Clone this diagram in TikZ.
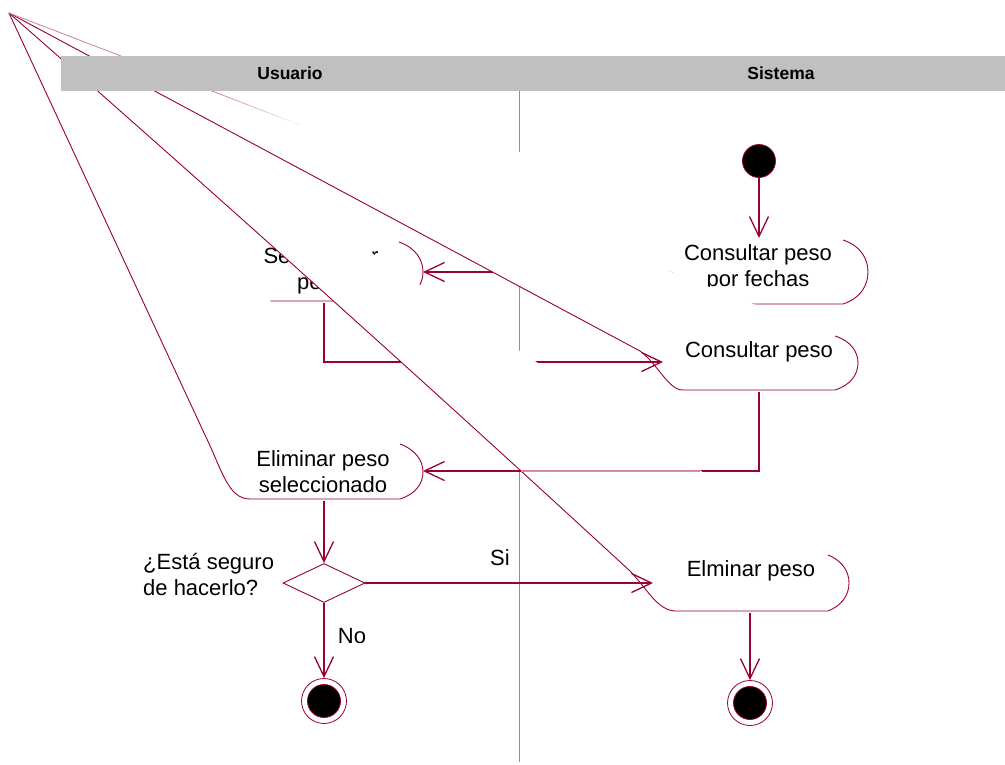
\documentclass[tikz,border=0pt]{standalone}
\usepackage{fontspec}
\setmainfont{Liberation Sans}
\usetikzlibrary{positioning,arrows.meta,shapes.geometric,calc}

\definecolor{uml}{RGB}{153,0,51}
\definecolor{lane}{RGB}{192,192,192}

\begin{document}
\begin{tikzpicture}[x=1pt, y=-1pt,
  every node/.style={inner sep=0pt, font=\fontsize{22}{26}\selectfont},
  wire/.style={draw=uml, line width=0.9pt},
  cover/.style={fill=white},
  flow/.style={draw=uml, line width=1.3pt, -{Straight Barb[length=20pt, width=19pt, line width=1.3pt]}},
  txt/.style={anchor=base, align=center},
  lanehead/.style={anchor=base, font=\bfseries\fontsize{17.5}{20}\selectfont},
  startst/.style={circle, draw=uml, fill=black, line width=0.8pt, minimum size=33pt},
  endring/.style={circle, draw=uml, line width=0.8pt, minimum size=45pt},
  enddot/.style={circle, draw=uml, fill=black, line width=0.8pt, minimum size=33pt},
  decision/.style={diamond, draw=uml, fill=white, line width=0.9pt, minimum width=82pt, minimum height=39pt}
]
\useasboundingbox (0,0) rectangle (1005,764);
\coordinate (org) at (9,13);

% swimlane divider
\draw[uml!55, line width=1pt] (519,91) coordinate (laneTop) -- (519,762) coordinate (laneBot);

% Seleccionar peso
\path[cover] (org) -- (399,242) .. controls (416,248) and (423,260) .. (423,272)
  .. controls (423,284) and (416,295) .. (399,301) -- (250,301) -- cycle;
\draw[wire] (399,242) .. controls (416,248) and (423,260) .. (423,272)
  .. controls (423,284) and (416,295) .. (399,301) -- (255,301);
\node[txt] (selText) at (321,289) {Seleccionar\\peso};
\coordinate (selE) at (423,272);
\coordinate (selB) at (324,303);

% Eliminar peso seleccionado
\path[cover] (org) -- (400,444) .. controls (416,450) and (423,461) .. (423,472)
  .. controls (423,483) and (416,494) .. (400,499) -- (250,499)
  .. controls (228,499) and (222,470) .. (205,435) -- cycle;
\draw[wire] (400,444) .. controls (416,450) and (423,461) .. (423,472)
  .. controls (423,483) and (416,494) .. (400,499) -- (250,499)
  .. controls (228,499) and (222,470) .. (205,435) -- (org);
\node[txt] (elselText) at (323,492) {Eliminar peso\\seleccionado};
\coordinate (elselE) at (423,471);
\coordinate (elselB) at (324,501);

% flow into Seleccionar peso
\coordinate (fechasW) at (683,272);
\draw[flow] (fechasW) -- (selE);

% Consultar peso por fechas
\path[cover] (org) -- (843,240) .. controls (861,246) and (868,259) .. (868,272)
  .. controls (868,285) and (861,298) .. (843,304) -- (753,304) -- cycle;
\draw[wire] (843,240) .. controls (861,246) and (868,259) .. (868,272)
  .. controls (868,285) and (861,298) .. (843,304) -- (745,304);
\node[txt] (fechasText) at (758,286) {Consultar peso\\por fechas};

% initial state
\node[startst] (start) at (759,161) {};
\coordinate (fechasT) at (759,238);
\draw[flow] (start) -- (fechasT);

% Consultar peso
\path[cover] (org) -- (835,336) .. controls (851,341) and (858,352) .. (858,363)
  .. controls (858,374) and (851,385) .. (835,390) -- (683,390)
  .. controls (668,390) and (658,364) .. (640,351) -- cycle;
\draw[wire] (835,336) .. controls (851,341) and (858,352) .. (858,363)
  .. controls (858,374) and (851,385) .. (835,390) -- (683,390)
  .. controls (668,390) and (658,364) .. (640,351) -- (org);
\node[txt] (consText) at (759,357) {Consultar peso};
\coordinate (consW) at (663,362);
\coordinate (consB) at (759,392);

\draw[flow] (selB) |- (consW);
\draw[flow] (consB) |- (elselE);

% Elminar peso
\path[cover] (org) -- (828,555) .. controls (843,561) and (849,572) .. (849,583)
  .. controls (849,594) and (843,605) .. (828,611) -- (676,611)
  .. controls (658,611) and (648,590) .. (630,571)
  .. controls (440,396) and (245,220) .. (org) -- cycle;
\draw[wire] (828,555) .. controls (843,561) and (849,572) .. (849,583)
  .. controls (849,594) and (843,605) .. (828,611) -- (676,611)
  .. controls (658,611) and (648,590) .. (630,571)
  .. controls (440,396) and (245,220) .. (org);
\node[txt] (elimText) at (751,576) {Elminar peso};
\coordinate (elimW) at (653,583);
\coordinate (elimB) at (750,613);

% pale part of the flow under Elminar peso
\coordinate (paleA) at (521,471);
\coordinate (paleB) at (700,471);
\draw[uml!45, line width=1.3pt] (paleA) -- (paleB);

% decision
\node[decision] (dec) at (324,583) {};
\draw[flow] (elselB) -- (dec.north);
\node[anchor=base west, align=left] (ask) at (143,595) {¿Está seguro\\de hacerlo?};
\draw[flow] (dec.east) -- (elimW);
\node[txt] (siLbl) at (500,565) {Si};

% final states
\node[endring] (end1) at (324,701) {};
\node[enddot] (end1dot) at (end1.center) {};
\draw[flow] (dec.south) -- (end1.north);
\node[txt] (noLbl) at (352,643) {No};
\node[endring] (end2) at (750,703) {};
\node[enddot] (end2dot) at (end2.center) {};
\draw[flow] (elimB) -- (end2.north);

% faint edge of Consultar peso por fechas
\coordinate (fadeS) at (212,91);
\coordinate (fadeE) at (300,125);
\draw[uml!50, line width=0.8pt] (org) -- (fadeS);
\foreach \k in {0,...,9} {
  \pgfmathsetmacro\op{0.5*(1-\k/10)}
  \draw[uml, line width=0.8pt, draw opacity=\op]
    ($(fadeS)!\k/10!(fadeE)$) -- ($(fadeS)!\k/10+0.1!(fadeE)$);
}

% lane header
\fill[lane] (61,56) rectangle (1005,91);
\node[lanehead] (usr) at (290,79) {Usuario};
\node[lanehead] (sys) at (781,79) {Sistema};
\end{tikzpicture}
\end{document}
